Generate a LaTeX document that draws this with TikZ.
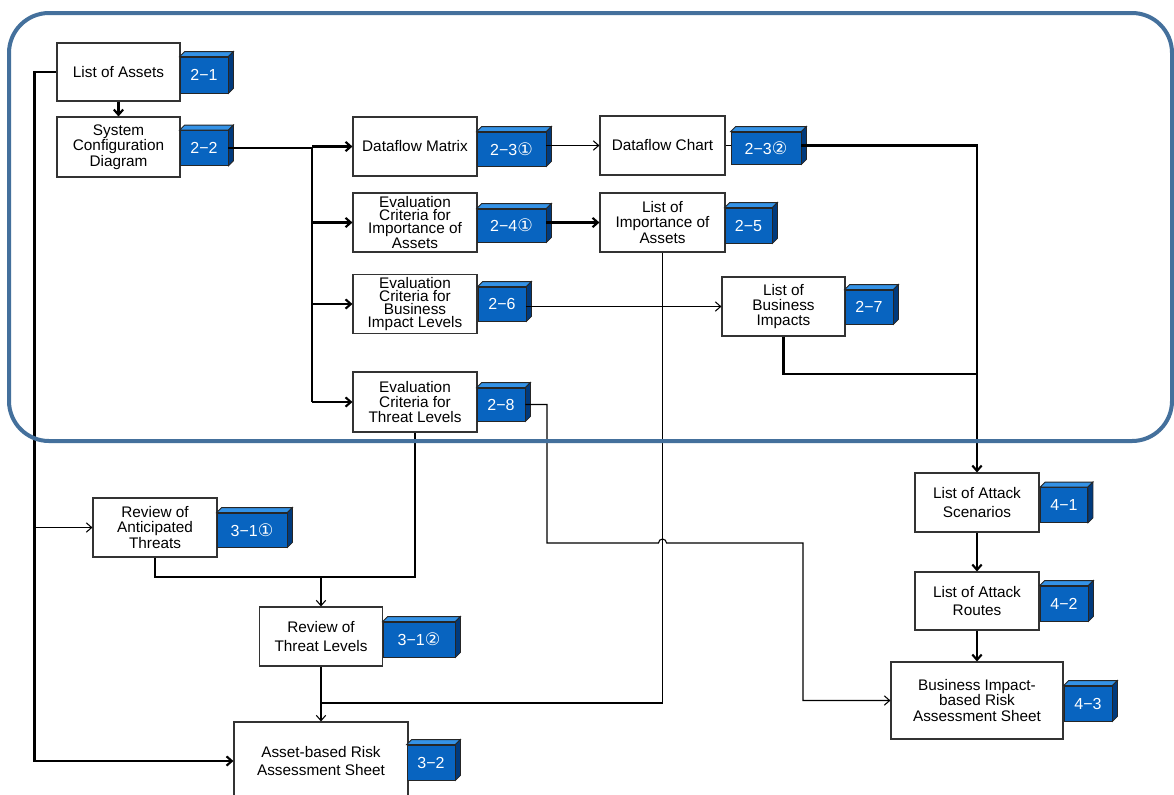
\documentclass[tikz,border=0pt]{standalone}
\usepackage{fontspec}
\setmainfont{Liberation Sans}
\newfontfamily\dvs{DejaVu Sans}
\usetikzlibrary{arrows.meta}
\definecolor{bfront}{RGB}{8,100,192}
\definecolor{btop}{RGB}{52,146,230}
\definecolor{bside}{RGB}{0,58,125}
\definecolor{framec}{RGB}{68,112,156}
\tikzset{
  bw/.style={minimum width=#1*0.75pt},
  bh/.style={minimum height=#1*0.75pt},
  box/.style={draw=black!80, line width=0.8pt, fill=white, inner sep=0pt, align=center,
    font=\fontsize{11.5}{11.6}\selectfont},
  four/.style={font=\fontsize{11.5}{9.8}\selectfont},
  two/.style={font=\fontsize{11.5}{14}\selectfont},
  badge/.style={fill=bfront, draw=black!85, line width=0.6pt, inner sep=0pt, text=white,
    font=\fontsize{12}{13}\selectfont},
  bface/.style={draw=black!85, line width=0.6pt},
  ln/.style={line width=1.6pt},
  tn/.style={line width=0.8pt},
  arr/.style={-{Straight Barb[length=4pt,width=7pt]}},
}
\newcommand{\circd}[1]{{\dvs\fontsize{13}{13}\selectfont #1}}
\newcommand{\mkbadge}[6]{%
  \node[badge, bw=#4, bh=#5] (#1) at (#2,#3) {#6};
  \filldraw[bface, fill=btop] (#1.north west) -- ++(5,-5) -- ([shift={(5,-5)}]#1.north east) -- (#1.north east) -- cycle;
  \filldraw[bface, fill=bside] (#1.north east) -- ([shift={(5,-5)}]#1.north east) -- ([shift={(5,-5)}]#1.south east) -- (#1.south east) -- cycle;
}
\begin{document}
\begin{tikzpicture}[x=0.75pt, y=-0.75pt]
\clip (0,0) rectangle (1174,794);
\fill[white] (0,0) rectangle (1174,794);

% boxes
\node[box, bw=123, bh=58] (assets) at (118.5,72) {List of Assets};
\node[box, bw=123, bh=60] (scd) at (118.5,147) {System\\Configuration\\Diagram};
\node[box, bw=124, bh=59] (dfm) at (415,146.5) {Dataflow Matrix};
\node[box, bw=125, bh=59] (dfc) at (662.5,145.5) {Dataflow Chart};
\node[box, four, bw=124, bh=59] (eca) at (415,222.5) {Evaluation\\Criteria for\\Importance of\\Assets};
\node[box, bw=125, bh=59] (loi) at (662.5,222.5) {List of\\Importance of\\Assets};
\node[box, four, bw=124, bh=59] (ecb) at (415,304) {Evaluation\\Criteria for\\Business\\Impact Levels};
\node[box, bw=123, bh=59] (lbi) at (783.5,306.5) {List of\\Business\\Impacts};
\node[box, bw=124, bh=60] (ect) at (415,402) {Evaluation\\Criteria for\\Threat Levels};
\node[box, bw=124, bh=59] (rat) at (155,527.5) {Review of\\Anticipated\\Threats};
\node[box, two, bw=123, bh=59] (rtl) at (321,636.5) {Review of\\Threat Levels};
\node[box, two, bw=174, bh=78] (abr) at (321,761) {Asset-based Risk\\Assessment Sheet};
\node[box, two, bw=124, bh=59] (las) at (977,502.5) {List of Attack\\Scenarios};
\node[box, two, bw=124, bh=58] (lar) at (977,601) {List of Attack\\Routes};
\node[box, bw=172, bh=77] (bir) at (977,700.5) {Business Impact-\\based Risk\\Assessment Sheet};

% badges
\mkbadge{b21}{204}{75}{48}{36}{2−1}
\mkbadge{b22}{204}{148}{48}{35}{2−2}
\mkbadge{b231}{511.5}{149}{69}{34}{2−3\circd{①}}
\mkbadge{b232}{766}{148}{70}{32}{2−3\circd{②}}
\mkbadge{b241}{511.5}{225.5}{69}{33}{2−4\circd{①}}
\mkbadge{b25}{748.5}{225.5}{47}{35}{2−5}
\mkbadge{b26}{502}{304}{48}{34}{2−6}
\mkbadge{b27}{869}{307}{48}{34}{2−7}
\mkbadge{b28}{501}{404.5}{48}{33}{2−8}
\mkbadge{b311}{252}{530}{70}{34}{3−1\circd{①}}
\mkbadge{b312}{419}{639.5}{72}{35}{3−1\circd{②}}
\mkbadge{b32}{431}{762.5}{48}{35}{3−2}
\mkbadge{b41}{1064}{505}{47}{35}{4−1}
\mkbadge{b42}{1064}{603.5}{48}{35}{4−2}
\mkbadge{b43}{1088}{703.5}{48}{35}{4−3}

% coordinates
\coordinate (lt) at (35,527.5);
\coordinate (t2) at (312,148);
\coordinate (j1) at (783.5,374);
\coordinate (j3) at (662.5,703);
\coordinate (j4) at (321,703);
\coordinate (j5) at (321,577);
\coordinate (h1) at (547,543);
\coordinate (h2) at (658.5,543);
\coordinate (h3) at (803,543);

% left trunk
\draw[ln,arr] (assets.west) -- ++(-22,0) |- (abr.west);
\draw[tn,arr] (lt) -- (rat.west);
\draw[ln,arr] (assets.south) -- (scd.north);

% second trunk
\draw[ln] (b22.east) -- (t2) -- (t2 |- ect.west);
\draw[ln,arr] (t2 |- dfm.west) -- (dfm.west);
\draw[ln,arr] (t2 |- eca.west) -- (eca.west);
\draw[ln,arr] (t2 |- ecb.west) -- (ecb.west);
\draw[ln,arr] (t2 |- ect.west) -- (ect.west);

% horizontal flows
\draw[tn,arr] (b231.east |- dfc.west) -- (dfc.west);
\draw[ln,arr] (b241.east |- loi.west) -- (loi.west);
\draw[tn,arr] (b26.east |- lbi.west) -- (lbi.west);

% right trunk
\draw[tn] (dfc.east) -- (b232.west |- dfc.east);
\draw[ln,arr] (b232.east |- dfc.east) -- (las.north |- dfc.east) -- (las.north);
\draw[ln] (lbi.south) -- (j1) -- (j1 -| las.north);
\draw[ln,arr] (las.south) -- (lar.north);
\draw[ln,arr] (lar.south) -- (bir.north);

% threat paths
\draw[tn] (ect.south) |- (j5);
\draw[tn] (rat.south) |- (j5);
\draw[tn,arr] (j5) -- (rtl.north);
\draw[tn,arr] (rtl.south) -- (abr.north);
\draw[tn] (loi.south) -- (j3) -- (j4);
\draw[tn,arr] (b28.east) -| (h1) -- (h2) arc[start angle=180, end angle=360, radius=4] -- (h3) |- (bir.west);

% frame
\draw[framec, line width=3pt, rounded corners=30pt] (9,13) rectangle (1172,441);
\end{tikzpicture}
\end{document}
